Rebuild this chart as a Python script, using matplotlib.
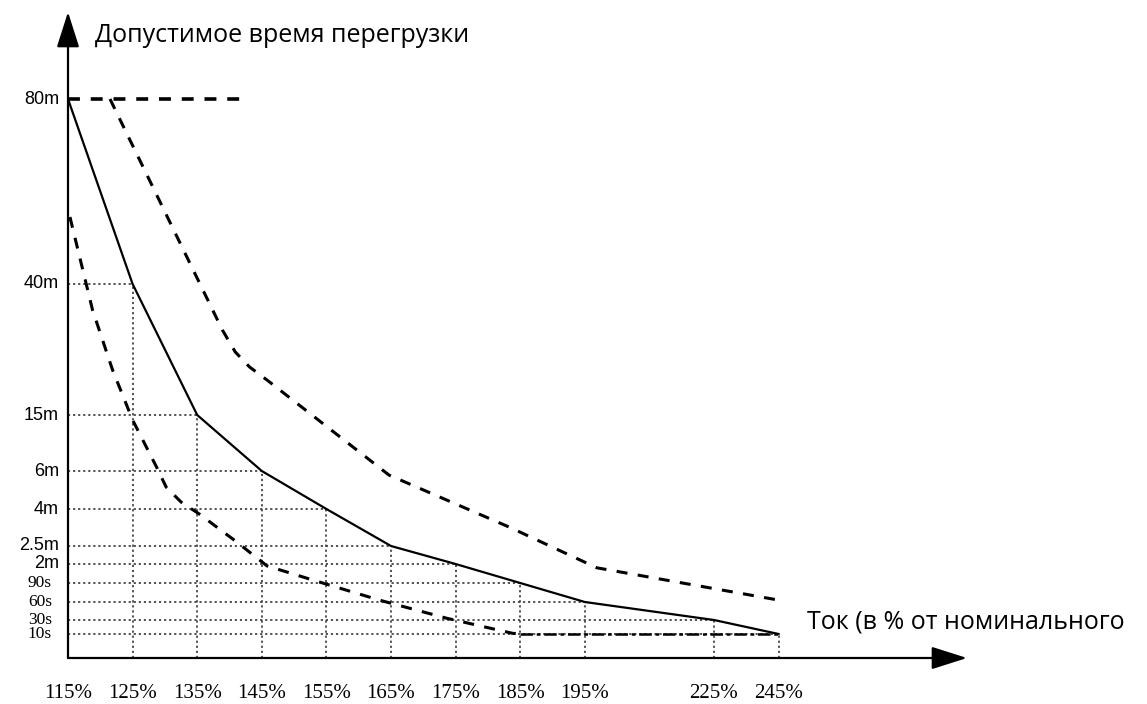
import numpy as np
import matplotlib
matplotlib.use("Agg")
import matplotlib.pyplot as plt
import matplotlib.transforms as mtransforms

# current, % of nominal (ticks) and their slots on the (non-uniform) axis
x_ticks = [115, 125, 135, 145, 155, 165, 175, 185, 195, 225, 245]
x_slots = [0, 1, 2, 3, 4, 5, 6, 7, 8, 10, 11]
x_labels = ["115%", "125%", "135%", "145%", "155%", "165%", "175%", "185%", "195%", "225%", "245%"]

# allowed time, seconds (ticks) and their heights on the axis
y_ticks = [10, 30, 60, 90, 120, 150, 240, 360, 900, 2400, 4800]
y_slots = [24, 38, 56, 75, 94, 112, 149, 187, 243, 374, 559]
y_labels = ["10s", "30s", "60s", "90s", "2m", "2.5m", "4m", "6m", "15m", "40m", "80m"]

# nominal curve (solid) - one point per current tick
nominal_t = [4800, 2400, 900, 360, 240, 150, 120, 90, 60, 30, 10]

# upper limit curve (dashed)
upper_x = [121.5, 138.9, 140.9, 143.1, 145.8, 164.7, 183.3, 197.8, 245]
upper_t = [4800, 1873, 1621, 1450, 1301, 347, 196, 114, 63]

# lower limit curve (dashed)
lower_x = [115.3, 118.8, 121.9, 125, 128.7, 130.2, 132.5, 135.3, 141.1, 145.8,
           152.8, 163.2, 173.6, 183.8, 185]
lower_t = [3269, 2102, 1415, 852, 399, 309, 262, 228, 160, 117, 95, 63, 33, 11, 10]
floor_x = [185, 245]
floor_t = [10, 10]

# 80m cap line
cap_x = [115, 142.5]
cap_t = [4800, 4800]

# scales
xv = np.array(x_ticks + [345], float)
xp = np.array(x_slots + [16], float)
yv = np.array([0] + y_ticks + [9600], float)
yp = np.array([0] + y_slots + [559 + 4800 * 185 / 2400], float)


def fx(v):
    return np.interp(v, xv, xp)


def ix(p):
    return np.interp(p, xp, xv)


def fy(v):
    return np.interp(v, yv, yp)


def iy(p):
    return np.interp(p, yp, yv)


W, H = 1147, 704
fig = plt.figure(figsize=(W / 100, H / 100), dpi=100)
x0, x1, y0, y1 = 68, 967, 658, 12
ax = fig.add_axes([x0 / W, 1 - y0 / H, (x1 - x0) / W, (y0 - y1) / H])
ax.set_xscale("function", functions=(fx, ix))
ax.set_yscale("function", functions=(fy, iy))
ax.set_xlim(115, ix((x1 - x0) / 64.6))
ax.set_ylim(0, iy(y0 - y1))
for s in ax.spines.values():
    s.set_visible(False)

grid_kw = dict(color="#444444", lw=1.3, linestyle=(0, (1.2, 1.6)), zorder=1)
ax.vlines(x_ticks[1:], 0, nominal_t[1:], **grid_kw)
ax.hlines(nominal_t[1:], 115, x_ticks[1:], **grid_kw)

ax.plot(x_ticks, nominal_t, color="black", lw=1.6, zorder=3)
ax.plot(upper_x, upper_t, color="black", lw=2.2, linestyle=(0, (3.6, 3.4)), zorder=3)
ax.plot(lower_x, lower_t, color="black", lw=2.2, linestyle=(0, (3.6, 3.4)), zorder=3)
ax.plot(floor_x, floor_t, color="black", lw=1.8, linestyle=(0, (5, 1.5, 1.5, 1.5)), zorder=3)
ax.plot(cap_x, cap_t, color="black", lw=2.6, linestyle=(0, (3.3, 3.0)), zorder=3, clip_on=False)

# axes with arrows
arr = dict(arrowstyle="-|>,head_length=1.1,head_width=0.35", color="black",
           lw=1.6, shrinkA=0, shrinkB=0, mutation_scale=20)
ax.annotate("", xy=(1, 0), xytext=(0, 0), xycoords="axes fraction", arrowprops=arr)
ax.annotate("", xy=(0, 1), xytext=(0, 0), xycoords="axes fraction", arrowprops=arr)

ax.set_xticks(x_ticks)
ax.set_xticklabels(x_labels, family="Liberation Serif", fontsize=15)
ax.tick_params(axis="x", length=0, pad=19)
ax.set_yticks([])
ax.minorticks_off()

for t, lab in zip(y_ticks, y_labels):
    serif = lab.endswith("s")
    tr = mtransforms.offset_copy(ax.get_yaxis_transform(), fig=fig,
                                 x=-16 if serif else -9, y=0, units="dots")
    ax.text(0, t, lab, transform=tr, ha="right", va="center",
            family="Liberation Serif" if serif else "Liberation Sans",
            fontsize=12.5 if serif else 13)

fig.text(95 / W, 1 - 36 / H, "Допустимое время перегрузки", ha="left", va="center",
         family=["Open Sans", "DejaVu Sans"], fontsize=18)
fig.text(807 / W, 1 - 622 / H, "Ток (в % от номинального", ha="left", va="center",
         family=["Open Sans", "DejaVu Sans"], fontsize=18)

fig.savefig("out.png", dpi=100)
